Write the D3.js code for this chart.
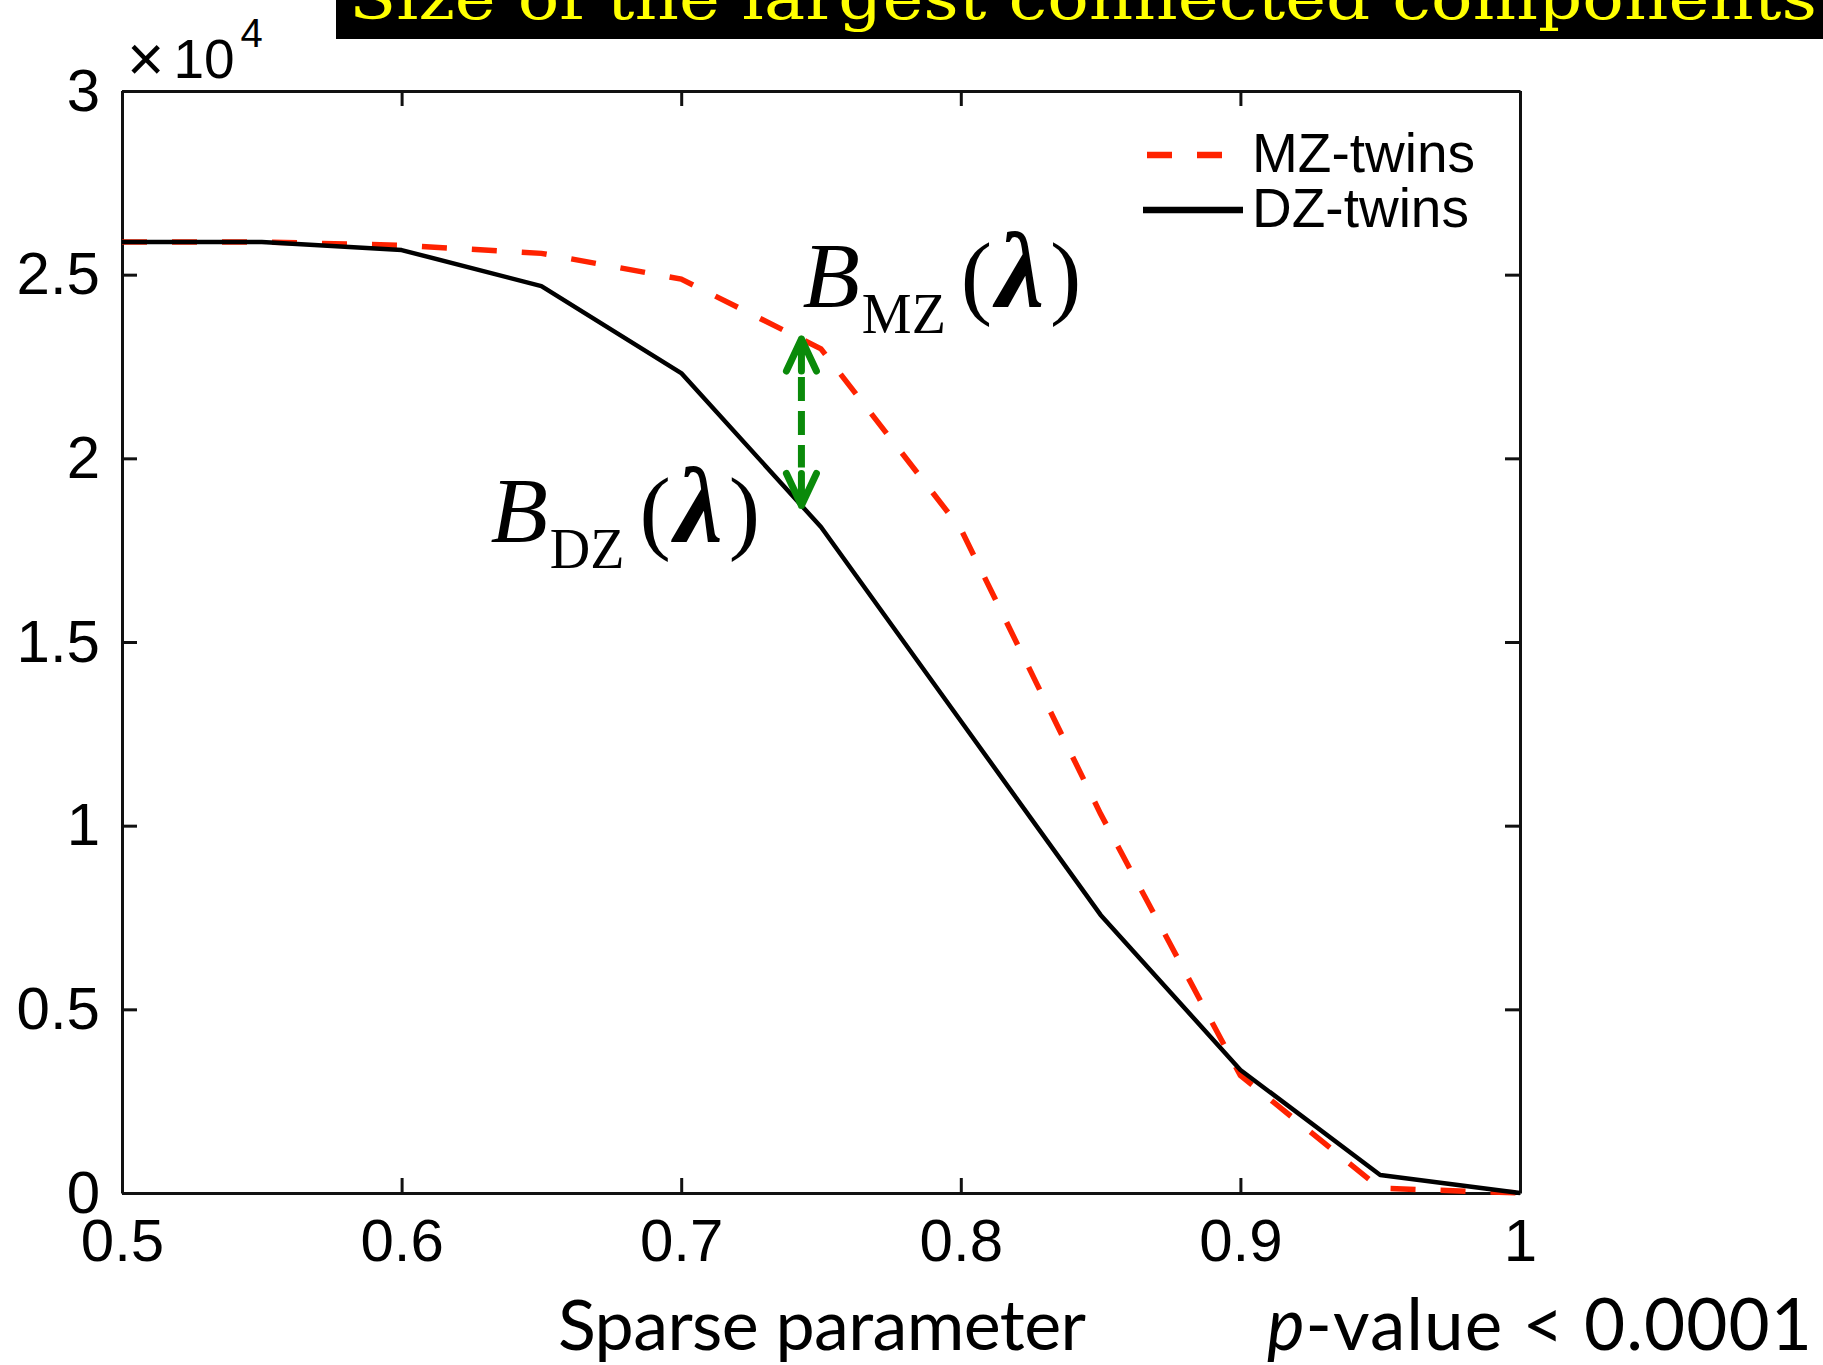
<!DOCTYPE html>
<html>
<head>
<meta charset="utf-8">
<script src="https://cdn.jsdelivr.net/npm/d3@7"></script>
<style>
  body { margin: 0; background: #fff; }
</style>
</head>
<body>
<div id="chart"></div>
<script>
const width = 1823;
const height = 1365;

// sparse parameter (lambda) on the x axis
const lambdaValues = [0.5, 0.55, 0.6, 0.65, 0.7, 0.75, 0.8, 0.85, 0.9, 0.95, 1.0];
// size of the largest connected component
const mzTwins = [25890, 25890, 25800, 25580, 24880, 22980, 18080, 10320, 3200, 130, 0];
const dzTwins = [25890, 25890, 25670, 24690, 22320, 18130, 12850, 7570, 3350, 490, 0];
const seriesNames = ["MZ-twins", "DZ-twins"];

const xTicks = [0.5, 0.6, 0.7, 0.8, 0.9, 1];
const xTickLabels = ["0.5", "0.6", "0.7", "0.8", "0.9", "1"];
const yTicks = [0, 5000, 10000, 15000, 20000, 25000, 30000];
const yTickLabels = ["0", "0.5", "1", "1.5", "2", "2.5", "3"];

// lambda where the green arrow shows the gap between the curves
const arrowLambda = 0.743;

const titleText = "Size of the largest connected components";
const xLabel = "Sparse parameter";

let svg = d3.select("#chart")
      .append("svg")
      .attr("width", width)
      .attr("height", height)
      .style("display", "block")
      .style("background", "#fff");

const plotLeft = 122, plotRight = 1520, plotTop = 91, plotBottom = 1193;
const tick = 15;
const sans = "'Liberation Sans', Arial, Helvetica, sans-serif";
const serif = "'Liberation Serif', 'Times New Roman', serif";

// title bar (cut at the top of the slide)
svg.append("rect")
      .attr("x", 336).attr("y", 0)
      .attr("width", width - 336).attr("height", 39)
      .attr("fill", "#000");
svg.append("text")
      .attr("x", 349).attr("y", 19)
      .attr("font-family", "'DejaVu Serif', serif")
      .attr("font-size", 60)
      .attr("fill", "#ffff00")
      .attr("textLength", 1468)
      .attr("lengthAdjust", "spacingAndGlyphs")
      .text(titleText);

let x = d3.scaleLinear().domain([0.5, 1]).range([plotLeft, plotRight]);
let y = d3.scaleLinear().domain([0, 30000]).range([plotBottom, plotTop]);

function styleAxis(g) {
      g.selectAll("path, line").attr("stroke", "#111").attr("stroke-width", 3);
      g.selectAll("text")
            .attr("font-family", sans)
            .attr("font-size", 60)
            .attr("fill", "#000");
}

// Add X axis (ticks inside, MATLAB style)
svg.append("g")
      .attr("transform", `translate(0,${plotBottom})`)
      .call(d3.axisBottom(x).tickValues(xTicks).tickSize(-tick).tickSizeOuter(0).tickPadding(25)
            .tickFormat((d, i) => xTickLabels[i]))
      .call(styleAxis);
svg.append("g")
      .attr("transform", `translate(0,${plotTop})`)
      .call(d3.axisTop(x).tickValues(xTicks).tickSize(-tick).tickSizeOuter(0).tickFormat(""))
      .call(styleAxis);

// Add Y axis
svg.append("g")
      .attr("transform", `translate(${plotLeft},0)`)
      .call(d3.axisLeft(y).tickValues(yTicks).tickSize(-tick).tickSizeOuter(0).tickPadding(22)
            .tickFormat((d, i) => yTickLabels[i]))
      .call(styleAxis);
svg.append("g")
      .attr("transform", `translate(${plotRight},0)`)
      .call(d3.axisRight(y).tickValues(yTicks).tickSize(-tick).tickSizeOuter(0).tickFormat(""))
      .call(styleAxis);

// exponent label
let expo = svg.append("text")
      .attr("x", 127).attr("y", 78)
      .attr("font-family", sans)
      .attr("font-size", 55)
      .attr("fill", "#000");
expo.append("tspan").attr("font-size", 64).attr("dy", 3).text("\u00d7");
expo.append("tspan").attr("dx", 9).attr("dy", -3).text("10");
expo.append("tspan").attr("font-size", 40).attr("dx", 6).attr("dy", -31).text("4");

// Add the lines
let line = d3.line()
      .x(d => x(d[0]))
      .y(d => y(d[1]));

svg.append("path")
      .datum(d3.zip(lambdaValues, mzTwins))
      .attr("fill", "none")
      .attr("stroke", "#ff2200")
      .attr("stroke-width", 5.5)
      .attr("stroke-dasharray", "25,25")
      .attr("d", line);

svg.append("path")
      .datum(d3.zip(lambdaValues, dzTwins))
      .attr("fill", "none")
      .attr("stroke", "#000")
      .attr("stroke-width", 4.5)
      .attr("stroke-linejoin", "round")
      .attr("d", line);

// legend
let legend = svg.append("g");
legend.append("line")
      .attr("x1", 1147).attr("x2", 1222).attr("y1", 155).attr("y2", 155)
      .attr("stroke", "#ff2200").attr("stroke-width", 6.5).attr("stroke-dasharray", "25,25");
legend.append("line")
      .attr("x1", 1143).attr("x2", 1243).attr("y1", 210).attr("y2", 210)
      .attr("stroke", "#000").attr("stroke-width", 6.5);
legend.selectAll("text.leg")
      .data(seriesNames)
      .join("text")
      .attr("class", "leg")
      .attr("x", 1252)
      .attr("y", (d, i) => 172 + i * 55)
      .attr("font-family", sans)
      .attr("font-size", 55)
      .text(d => d);

// green double arrow between the two curves
function valueAt(series, lam) {
      let i = d3.bisectRight(lambdaValues, lam) - 1;
      let t = (lam - lambdaValues[i]) / (lambdaValues[i + 1] - lambdaValues[i]);
      return series[i] + t * (series[i + 1] - series[i]);
}
let ax = x(arrowLambda);
let yTop = y(valueAt(mzTwins, arrowLambda));
let yBot = y(valueAt(dzTwins, arrowLambda));
const green = "#0a8a0a";

svg.append("line")
      .attr("x1", ax).attr("x2", ax).attr("y1", yTop + 38).attr("y2", yBot - 38)
      .attr("stroke", green).attr("stroke-width", 7)
      .attr("stroke-dasharray", "24,10");
svg.append("path")
      .attr("d", `M${ax - 15},${yTop + 32}L${ax},${yTop}L${ax + 15},${yTop + 32}M${ax},${yTop}V${yTop + 32}`)
      .attr("fill", "none").attr("stroke", green).attr("stroke-width", 7)
      .attr("stroke-linecap", "round").attr("stroke-linejoin", "round");
svg.append("path")
      .attr("d", `M${ax - 15},${yBot - 32}L${ax},${yBot}L${ax + 15},${yBot - 32}M${ax},${yBot}V${yBot - 32}`)
      .attr("fill", "none").attr("stroke", green).attr("stroke-width", 7)
      .attr("stroke-linecap", "round").attr("stroke-linejoin", "round");

// B labels
function addBLabel(sub, xPos, yPos) {
      let t = svg.append("text")
            .attr("x", xPos).attr("y", yPos)
            .attr("font-family", serif)
            .attr("font-size", 94)
            .attr("fill", "#000");
      t.append("tspan").attr("font-style", "italic").text("B");
      t.append("tspan").attr("font-size", 56).attr("dx", 2).attr("dy", 26).text(sub);
      t.append("tspan").attr("dx", 15).attr("dy", -26).text("(");
      t.append("tspan").attr("font-style", "italic").attr("font-weight", "bold")
            .attr("font-size", 108).attr("dx", 4).text("\u03bb");
      t.append("tspan").attr("dx", 6).text(")");
}
addBLabel("MZ", ax + 1, yTop - 32);
addBLabel("DZ", ax - 311, yBot + 37);

// bottom texts
svg.append("text")
      .attr("x", 558).attr("y", 1350)
      .attr("font-family", "Lato, 'Open Sans', sans-serif")
      .attr("font-size", 70)
      .attr("textLength", 528)
      .text(xLabel);

let pv = svg.append("text")
      .attr("x", 1267).attr("y", 1350)
      .attr("font-family", "Lato, 'Open Sans', sans-serif")
      .attr("font-size", 71)
      .attr("textLength", 545);
pv.append("tspan").attr("font-style", "italic").text("p");
pv.append("tspan").text("-value < 0.0001");
</script>
</body>
</html>
